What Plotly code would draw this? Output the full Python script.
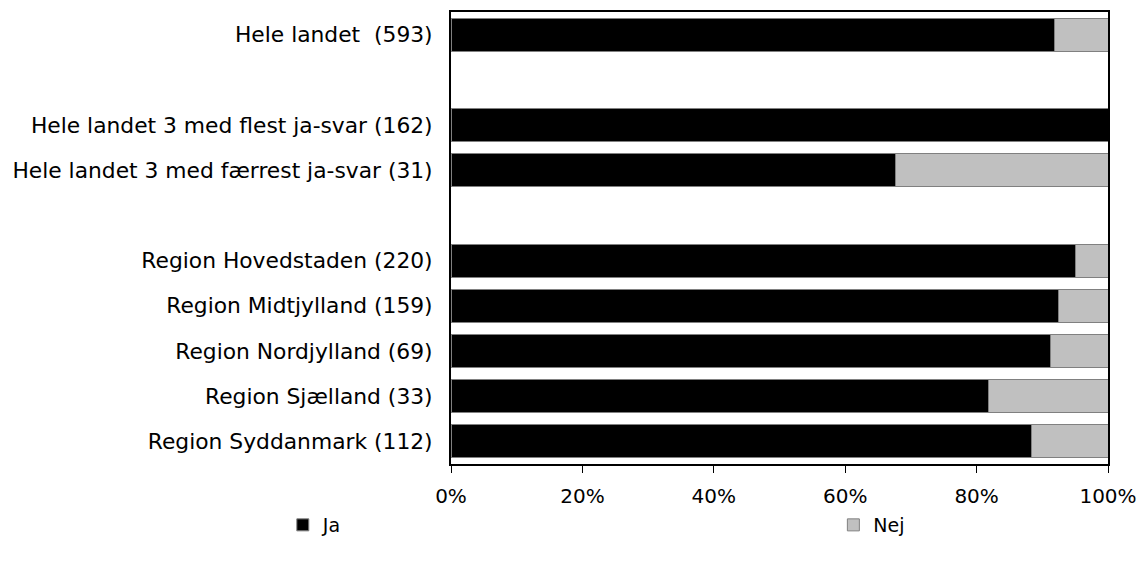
import plotly.graph_objects as go

categories = [
    "Hele landet  (593)",
    " ",
    "Hele landet 3 med flest ja-svar (162)",
    "Hele landet 3 med færrest ja-svar (31)",
    "  ",
    "Region Hovedstaden (220)",
    "Region Midtjylland (159)",
    "Region Nordjylland (69)",
    "Region Sjælland (33)",
    "Region Syddanmark (112)",
]
ja = [0.919, None, 1.0, 0.677, None, 0.95, 0.925, 0.913, 0.818, 0.884]
nej = [0.081, None, 0.0, 0.323, None, 0.05, 0.075, 0.087, 0.182, 0.116]
tick_vals = [0, 0.2, 0.4, 0.6, 0.8, 1.0]
tick_text = ["0%", "20%", "40%", "60%", "80%", "100%"]

FAM = "DejaVu Sans, Verdana, sans-serif"
font = dict(family=FAM, size=21, color="black")

fig = go.Figure()
fig.add_trace(go.Bar(
    name="Ja", y=categories, x=ja, orientation="h", legend="legend",
    marker=dict(color="black", line=dict(color="#808080", width=1)),
))
fig.add_trace(go.Bar(
    name="Nej", y=categories, x=nej, orientation="h", legend="legend2",
    marker=dict(color="#C0C0C0", line=dict(color="#808080", width=1)),
))

leg_common = dict(
    orientation="h", xanchor="left", yanchor="middle", y=-0.135,
    font=dict(family=FAM, size=19, color="black"),
    itemwidth=30, bgcolor="rgba(0,0,0,0)", borderwidth=0,
)

fig.update_layout(
    barmode="stack",
    bargap=0.27,
    width=1137, height=560,
    margin=dict(l=443, r=37, t=4, b=104, autoexpand=False),
    paper_bgcolor="white", plot_bgcolor="white",
    font=font,
    showlegend=True,
    legend=dict(x=-0.256, **leg_common),
    legend2=dict(x=0.582, **leg_common),
    xaxis=dict(
        range=[0, 1], tickvals=tick_vals, ticktext=tick_text,
        showgrid=False, zeroline=False, automargin=False,
        showline=True, linecolor="black", linewidth=2, mirror=True,
        ticks="outside", ticklen=7, tickcolor="black", tickwidth=1,
        ticklabelstandoff=6,
        tickfont=dict(family=FAM, size=20, color="black"),
    ),
    yaxis=dict(
        type="category", categoryorder="array", categoryarray=categories,
        autorange="reversed", automargin=False,
        showgrid=False, zeroline=False,
        showline=True, linecolor="black", linewidth=2, mirror=True,
        ticks="", ticklabelstandoff=12,
        tickfont=dict(family=FAM, size=21.8, color="black"),
    ),
)

fig.write_html("out.html")
